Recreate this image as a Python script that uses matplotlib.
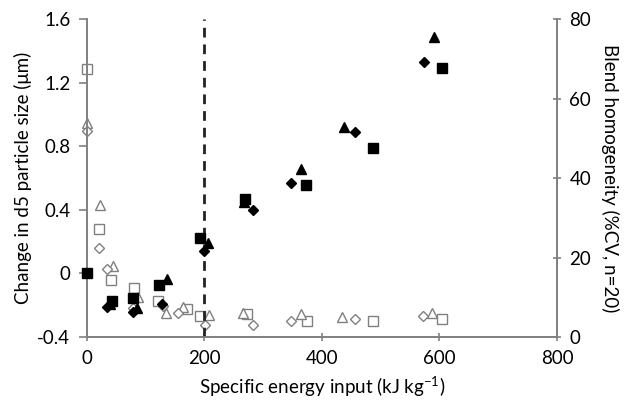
import matplotlib.pyplot as plt

plt.rcParams['font.family'] = ['Lato', 'DejaVu Sans']
plt.rcParams['mathtext.default'] = 'regular'

# change in d5 particle size (left axis), filled markers
sq_x = [0, 42, 79, 122, 192, 269, 373, 487, 605]
sq_y = [0, -0.175, -0.153, -0.076, 0.22, 0.466, 0.554, 0.787, 1.295]
tri_x = [40, 85, 136, 206, 267, 365, 437, 590]
tri_y = [-0.19, -0.216, -0.033, 0.19, 0.45, 0.655, 0.92, 1.485]
dia_x = [34, 79, 128, 200, 283, 348, 456, 574]
dia_y = [-0.212, -0.244, -0.19, 0.14, 0.397, 0.571, 0.89, 1.331]

# blend homogeneity %CV (right axis), open markers
osq_x = [0, 21, 41, 80, 121, 171, 192, 272, 375, 486, 605]
osq_y = [67.4, 27.2, 14.3, 12.4, 9.1, 7.1, 5.4, 5.8, 4.1, 4.1, 4.45]
otri_x = [0, 22, 44, 86, 134, 163, 207, 266, 364, 434, 588]
otri_y = [53.8, 33.2, 17.9, 10.1, 6.1, 7.6, 5.5, 6.0, 5.8, 4.95, 5.96]
odia_x = [0, 20, 34, 79, 129, 155, 201, 283, 348, 456, 572]
odia_y = [51.9, 22.3, 17.0, 7.2, 7.8, 6.0, 3.0, 3.0, 4.1, 4.5, 5.4]

gray = '#808080'
fig = plt.figure(figsize=(6.24, 4.01), dpi=100)
ax = fig.add_axes([0.1394, 0.1596, 0.7532, 0.793])
ax2 = ax.twinx()

# open series on the right axis
kw = dict(mfc='white', mec=gray, mew=1.0, ls='none', clip_on=False)
ax2.plot(osq_x, osq_y, 's', ms=7, **kw)
ax2.plot(otri_x, otri_y, '^', ms=7, **kw)
ax2.plot(odia_x, odia_y, 'D', ms=5, **kw)
ax2.set_ylim(0, 80)
ax2.set_yticks([0, 20, 40, 60, 80])

# filled series on the left axis
ax.plot(sq_x, sq_y, 's', ms=7.5, color='black', ls='none', zorder=3, clip_on=False)
ax.plot(tri_x, tri_y, '^', ms=7.5, color='black', ls='none', zorder=3, clip_on=False)
ax.plot(dia_x, dia_y, 'D', ms=5, color='black', ls='none', zorder=3, clip_on=False)
ax.set_zorder(ax2.get_zorder() + 1)
ax.patch.set_visible(False)

ax.axvline(200, color='#222222', lw=2, ls=(0, (3.5, 2.5)), zorder=2)

ax.set_xlim(0, 800)
ax.set_ylim(-0.4, 1.6)
ax.set_xticks([0, 200, 400, 600, 800])
ax.set_yticks([-0.4, 0, 0.4, 0.8, 1.2, 1.6])
ax.set_yticklabels(['-0.4', '0', '0.4', '0.8', '1.2', '1.6'])

for a in (ax, ax2):
    for s in a.spines.values():
        s.set_color(gray)
        s.set_linewidth(1.2)
    a.spines['top'].set_visible(False)
    a.tick_params(labelsize=13.5, color=gray, length=6, width=1.2, pad=6)
ax.tick_params(axis='y', direction='out')
ax.tick_params(axis='x', direction='inout')
ax2.tick_params(axis='y', direction='inout')

ax.set_xlabel('Specific energy input (kJ kg$^{-1}$)', fontsize=13.5, labelpad=6)
ax.set_ylabel('Change in d5 particle size (μm)', fontsize=13.5, labelpad=4)
ax2.set_ylabel('Blend homogeneity (%CV, n=20)', fontsize=13.5, rotation=270, labelpad=20)

fig.savefig('out.png', dpi=100)
